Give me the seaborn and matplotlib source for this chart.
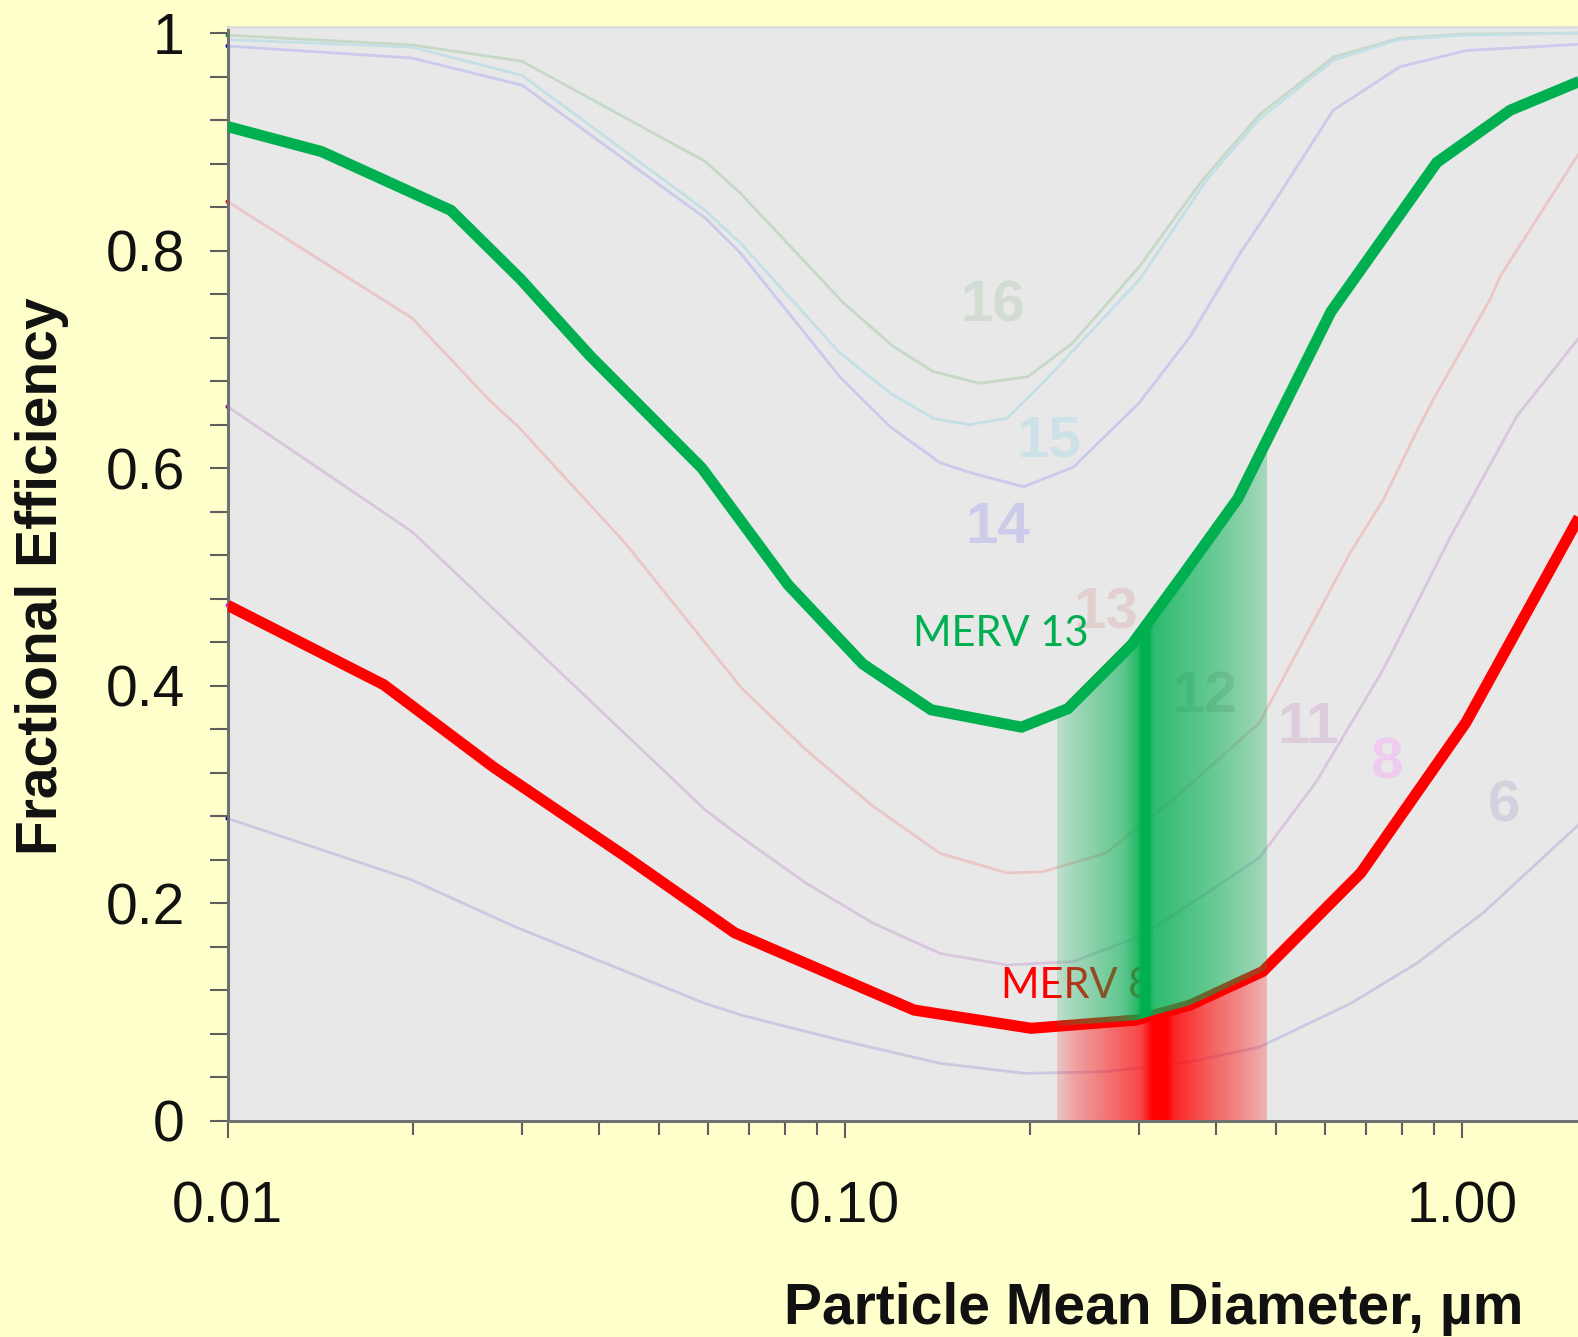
import numpy as np
import pandas as pd
import matplotlib
matplotlib.use("Agg")
import matplotlib.pyplot as plt
import matplotlib.colors as mcolors
import seaborn as sns
from matplotlib.ticker import (FixedLocator, FixedFormatter, LogLocator,
                               NullFormatter, MultipleLocator)

# ---------------- data ----------------
# highlighted curves
merv13_x = [0.01, 0.0142, 0.0230, 0.0298, 0.0387, 0.0587, 0.0809, 0.1070, 0.1380,
            0.1934, 0.2300, 0.2920, 0.3523, 0.4335, 0.614, 0.911, 1.198, 1.543, 1.60]
merv13_y = [0.914, 0.891, 0.837, 0.774, 0.703, 0.600, 0.493, 0.420, 0.378,
            0.362, 0.379, 0.438, 0.501, 0.572, 0.744, 0.881, 0.929, 0.955, 0.958]

merv8_x = [0.01, 0.0179, 0.0270, 0.0439, 0.0663, 0.1295, 0.2005, 0.2972, 0.3630,
           0.4760, 0.6860, 1.015, 1.539, 1.60]
merv8_y = [0.474, 0.401, 0.325, 0.244, 0.173, 0.102, 0.0852, 0.0928, 0.1066,
           0.1375, 0.228, 0.366, 0.552, 0.569]

# faint background curves
m16_x = [0.01, 0.0199, 0.0300, 0.0594, 0.0677, 0.0995, 0.1198, 0.1390, 0.1652, 0.1980,
         0.2340, 0.3000, 0.3800, 0.4700, 0.6200, 0.7900, 1.0000, 1.6000]
m16_y = [0.998, 0.989, 0.974, 0.882, 0.853, 0.752, 0.712, 0.689, 0.678, 0.684,
         0.715, 0.785, 0.865, 0.925, 0.978, 0.995, 0.999, 1.000]

m15_x = [0.01, 0.0199, 0.0300, 0.0594, 0.0677, 0.0982, 0.1185, 0.1390, 0.1590, 0.1833,
         0.2092, 0.3000, 0.3860, 0.4700, 0.6200, 0.7900, 1.0000, 1.6000]
m15_y = [0.994, 0.987, 0.961, 0.837, 0.807, 0.706, 0.669, 0.646, 0.640, 0.646,
         0.678, 0.773, 0.865, 0.921, 0.975, 0.994, 0.998, 1.000]

m14_x = [0.01, 0.0199, 0.0300, 0.0594, 0.0677, 0.0982, 0.1185, 0.1428, 0.1618, 0.1950,
         0.2347, 0.3000, 0.3630, 0.4377, 0.4830, 0.6190, 0.7940, 1.0190, 1.6000]
m14_y = [0.988, 0.977, 0.952, 0.830, 0.798, 0.684, 0.638, 0.605, 0.595, 0.583,
         0.601, 0.660, 0.721, 0.798, 0.834, 0.929, 0.969, 0.984, 0.990]

m12_x = [0.01, 0.0199, 0.0265, 0.0296, 0.0441, 0.0680, 0.0866, 0.1113, 0.1428, 0.1833,
         0.2092, 0.2645, 0.3402, 0.4700, 0.6590, 0.7460, 0.8455, 0.8990, 1.1110, 1.1530, 1.6000]
m12_y = [0.845, 0.738, 0.663, 0.638, 0.531, 0.398, 0.341, 0.289, 0.246, 0.228,
         0.229, 0.246, 0.295, 0.366, 0.522, 0.571, 0.634, 0.663, 0.755, 0.776, 0.902]

m11_x = [0.01, 0.0199, 0.0594, 0.0683, 0.0866, 0.1113, 0.1428, 0.1833, 0.2340, 0.3000,
         0.3860, 0.4700, 0.5820, 0.7460, 0.9570, 1.2270, 1.6000]
m11_y = [0.6565, 0.5416, 0.286, 0.260, 0.2185, 0.1817, 0.154, 0.1434, 0.1464, 0.1694,
         0.2093, 0.242, 0.3125, 0.415, 0.536, 0.6475, 0.730]

m6_x = [0.01, 0.0199, 0.0292, 0.0594, 0.0683, 0.0982, 0.1428, 0.1960, 0.2645, 0.3630,
        0.4700, 0.6590, 0.8455, 1.0840, 1.6000]
m6_y = [0.278, 0.2215, 0.1786, 0.108, 0.097, 0.0744, 0.053, 0.0438, 0.0453, 0.0545,
        0.068, 0.1077, 0.145, 0.1915, 0.280]

# curve number labels
num_labels = ["16", "15", "14", "13", "12", "11", "8", "6"]
num_label_x = [0.1736, 0.2145, 0.1769, 0.2650, 0.3837, 0.564, 0.7557, 1.172]
num_label_y = [0.7347, 0.6106, 0.531, 0.4528, 0.376, 0.3474, 0.3148, 0.2753]

# end dots of the original curves on the left axis
dot_y = [0.998, 0.988, 0.845, 0.6565, 0.474, 0.278]

x_ticks = [0.01, 0.1, 1.0]
x_tick_labels = ["0.01", "0.10", "1.00"]
y_ticks = [0, 0.2, 0.4, 0.6, 0.8, 1.0]
y_tick_labels = ["0", "0.2", "0.4", "0.6", "0.8", "1"]

# particle size range of the highlighted band
band_lo, band_hi = 0.2207, 0.4841

# ---------------- styles ----------------
GREEN = "#00B050"
RED = "#FF0000"
BG_FIG = "#FFFFCC"
BG_AX = "#E8E8E8"
faint_colors = {"16": "#C6D9C6", "15": "#C4E0E6", "14": "#CACAEC", "12": "#EBC6C6",
                "11": "#D8C6DC", "6": "#C9C9DF"}
label_colors = ["#D3DCD3", "#CDE2E8", "#CCCCEA", "#E2D0D0", "#D0CACA", "#DCCCDC",
                "#EFCBEF", "#D2D2DF"]
dot_colors = ["#009900", "#0000EE", "#FF0000", "#990099", "#FF00FF", "#000099"]

sns.set_style("ticks")
plt.rcParams["font.family"] = ["Liberation Sans", "DejaVu Sans"]

fig = plt.figure(figsize=(15.78, 13.37), dpi=100)
fig.patch.set_facecolor(BG_FIG)
ax_left = 227.7 / 1578
ax_bottom = 216 / 1337
ax = fig.add_axes([ax_left, ax_bottom, 1 - ax_left, 1094.3 / 1337])
ax.set_facecolor(BG_AX)
ax.set_xscale("log")


def draw_line(xs, ys, color, lw, z):
    sns.lineplot(x=xs, y=ys, ax=ax, color=color, linewidth=lw, zorder=z,
                 estimator=None, sort=False, legend=False,
                 solid_joinstyle="miter", solid_capstyle="butt")


# faint curves
for key, xs, ys in [("16", m16_x, m16_y), ("15", m15_x, m15_y), ("14", m14_x, m14_y),
                    ("12", m12_x, m12_y), ("11", m11_x, m11_y), ("6", m6_x, m6_y)]:
    draw_line(xs, ys, faint_colors[key], 2.0, 1.5)

for t, x, y, c in zip(num_labels, num_label_x, num_label_y, label_colors):
    ax.text(x, y, t, color=c, fontsize=42, fontweight="bold", ha="center",
            va="baseline", zorder=1.6)

# dots at the left axis
ax.scatter([0.01] * len(dot_y), dot_y, s=10, c=dot_colors, zorder=2.4,
           clip_on=False, linewidths=0)

# gradient bands
lx = np.log10
xs_band = np.logspace(lx(band_lo), lx(band_hi), 500)
red_at = np.interp(lx(xs_band), lx(merv8_x), merv8_y)
green_at = np.interp(lx(xs_band), lx(merv13_x), merv13_y)
poly_g = ax.fill_between(xs_band, red_at, green_at, facecolor="none",
                         edgecolor="none", linewidth=0)
poly_r = ax.fill_between(xs_band, 0, red_at, facecolor="none",
                         edgecolor="none", linewidth=0)

ncol = 1500
col_x = band_lo + (np.arange(ncol) + 0.5) / ncol * (band_hi - band_lo)
frac = (lx(col_x) - lx(band_lo)) / (lx(band_hi) - lx(band_lo))

g_fr = [0, 0.077, 0.238, 0.316, 0.382, 0.397, 0.435, 0.459, 0.555, 0.718, 0.876, 1]
g_al = [0.18, 0.30, 0.50, 0.60, 0.85, 1.0, 1.0, 0.80, 0.72, 0.58, 0.42, 0.28]
r_fr = [0, 0.077, 0.238, 0.397, 0.451, 0.522, 0.555, 0.718, 0.876, 1]
r_al = [0.15, 0.30, 0.50, 0.70, 1.0, 1.0, 0.85, 0.60, 0.40, 0.22]

for color, fr, al, poly, z in [(GREEN, g_fr, g_al, poly_g, 4), (RED, r_fr, r_al, poly_r, 2)]:
    rgba = np.zeros((1, ncol, 4))
    rgba[..., :3] = mcolors.to_rgb(color)
    rgba[0, :, 3] = np.interp(frac, fr, al)
    im = ax.imshow(rgba, extent=[band_lo, band_hi, 0, 1.0058], aspect="auto",
                   interpolation="nearest", origin="lower", zorder=z)
    im.set_clip_path(poly.get_paths()[0], poly.get_transform())

# highlighted curves
draw_line(merv8_x, merv8_y, RED, 8, 3)
draw_line(merv13_x, merv13_y, GREEN, 8, 5)

ax.text(0.1794, 0.1128, "MERV 8", color=RED, fontsize=30, family=["Lato", "DejaVu Sans"],
        ha="left", va="baseline", zorder=3.5)
ax.text(0.1289, 0.4366, "MERV 13", color=GREEN, fontsize=30, family=["Lato", "DejaVu Sans"],
        ha="left", va="baseline", zorder=6)

# axes limits and ticks
ax.set_xlim(0.01, 1.543)
ax.set_ylim(0, 1.0058)
ax.xaxis.set_major_locator(FixedLocator(x_ticks))
ax.xaxis.set_major_formatter(FixedFormatter(x_tick_labels))
ax.xaxis.set_minor_locator(LogLocator(base=10, subs=np.arange(2, 10), numticks=20))
ax.xaxis.set_minor_formatter(NullFormatter())
ax.yaxis.set_major_locator(FixedLocator(y_ticks))
ax.yaxis.set_major_formatter(FixedFormatter(y_tick_labels))
ax.yaxis.set_minor_locator(MultipleLocator(0.04))

tick_c = "#5E5E5E"
ax.tick_params(axis="y", which="both", direction="out", length=13, width=1.5,
               color=tick_c, pad=18, labelsize=41, labelcolor="#111111")
ax.tick_params(axis="x", which="major", direction="out", length=12, width=1.5,
               color=tick_c, pad=31, labelsize=41, labelcolor="#111111")
ax.tick_params(axis="x", which="minor", direction="out", length=10, width=1.5,
               color=tick_c)
ax.tick_params(top=False, right=False)

for side in ["left", "bottom"]:
    ax.spines[side].set_color("#707070")
    ax.spines[side].set_linewidth(2.2)
    ax.spines[side].set_zorder(2.5)
ax.spines["right"].set_visible(False)
ax.spines["top"].set_color("#DDDDDD")
ax.spines["top"].set_linewidth(2)

ax.set_xlabel("Particle Mean Diameter, µm", fontsize=41, fontweight="bold", color="#111111")
ax.xaxis.set_label_coords(0.686, -0.1471)
ax.set_ylabel("Fractional Efficiency", fontsize=41, fontweight="bold", color="#111111")
ax.yaxis.set_label_coords(-0.1175, 0.498)

fig.savefig("out.png", dpi=100, facecolor=BG_FIG)
